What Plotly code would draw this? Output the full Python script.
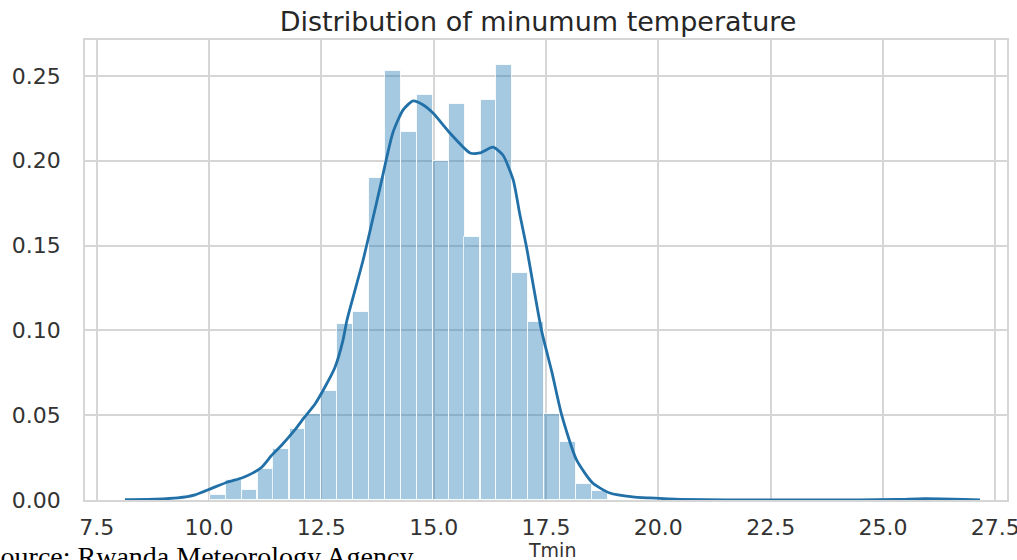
import plotly.graph_objects as go

# ---- data ----
bin_centers = [10.20, 10.55, 10.90, 11.26, 11.61, 11.97, 12.32, 12.68, 13.03, 13.38,
               13.74, 14.09, 14.45, 14.80, 15.16, 15.51, 15.86, 16.22, 16.57, 16.93,
               17.28, 17.64, 17.99, 18.34, 18.70]
bin_heights = [0.003, 0.012, 0.006, 0.018, 0.030, 0.042, 0.051, 0.064, 0.104, 0.111,
               0.190, 0.253, 0.217, 0.239, 0.200, 0.2335, 0.155, 0.236, 0.2565, 0.134,
               0.105, 0.051, 0.034, 0.0094, 0.0055]
bin_width = 0.354

kde_x = [8.13, 8.8, 9.3, 9.69, 10.07, 10.42, 10.73, 10.98, 11.18, 11.40, 11.62, 11.91,
         12.13, 12.36, 12.58, 12.80, 12.98, 13.07, 13.43, 13.81, 14.09, 14.32, 14.54,
         14.76, 14.99, 15.36, 15.81, 16.03, 16.32, 16.54, 16.77, 16.92, 17.06, 17.40,
         17.63, 17.85, 18.18, 18.54, 18.92, 19.43, 19.81, 20.5, 21.5, 23.0, 24.5, 25.3,
         25.9, 26.3, 26.8, 27.16]
kde_y = [0.0002, 0.0005, 0.0012, 0.003, 0.007, 0.0106, 0.013, 0.016, 0.0195, 0.0265,
         0.0324, 0.0413, 0.049, 0.0566, 0.0666, 0.078, 0.094, 0.106, 0.1415, 0.1846,
         0.2164, 0.230, 0.2353, 0.233, 0.228, 0.2164, 0.2046, 0.2046, 0.208, 0.2034,
         0.1887, 0.168, 0.150, 0.100, 0.0755, 0.050, 0.0236, 0.010, 0.0041, 0.0018,
         0.0012, 0.0004, 0.0001, 0.0001, 0.0001, 0.0003, 0.0008, 0.0007, 0.0003, 0.0001]

x_ticks = [7.5, 10.0, 12.5, 15.0, 17.5, 20.0, 22.5, 25.0, 27.5]
y_ticks = [0.00, 0.05, 0.10, 0.15, 0.20, 0.25]

title_text = "Distribution of minumum temperature"
x_label = "Tmin"
source_text = "Source: Rwanda Meteorology Agency"

# ---- figure ----
W, H = 1017, 560
ML, MR, MT, MB = 85, 10, 40, 60
PW = W - ML - MR
PH = H - MT - MB

grid_col = "#d6d6d6"
tick_font = dict(family="DejaVu Sans", size=22, color="#333333")

fig = go.Figure()
fig.add_trace(go.Bar(
    x=bin_centers, y=bin_heights, width=bin_width,
    marker=dict(color="rgba(31,119,180,0.4)",
                line=dict(color="rgba(255,255,255,0.8)", width=1)),
    showlegend=False, hoverinfo="skip"))
fig.add_trace(go.Scatter(
    x=kde_x, y=kde_y, mode="lines",
    line=dict(color="#2270a8", width=2.8, shape="spline", smoothing=0.6),
    showlegend=False, hoverinfo="skip"))

fig.update_layout(
    width=W, height=H,
    margin=dict(l=ML, r=MR, t=MT, b=MB, pad=0, autoexpand=False),
    paper_bgcolor="white", plot_bgcolor="white",
    bargap=0,
    title=dict(text=title_text, x=(538 - ML) / PW, xref="paper", xanchor="center",
               y=1 - 22 / H, yanchor="middle",
               font=dict(family="DejaVu Sans", size=27, color="#262626")),
)
fig.update_xaxes(
    range=[7.24, 27.76], tickvals=x_ticks, ticktext=[f"{v:.1f}" for v in x_ticks],
    showgrid=True, gridcolor=grid_col, gridwidth=1.5,
    showline=True, linecolor=grid_col, linewidth=1.5, mirror=True,
    ticks="outside", ticklen=7, tickcolor="rgba(0,0,0,0)",
    ticklabeloverflow="allow", automargin=False,
    tickfont=tick_font, zeroline=False)
fig.update_yaxes(
    range=[0, 0.2712], tickvals=y_ticks, ticktext=[f"{v:.2f}" for v in y_ticks],
    showgrid=True, gridcolor=grid_col, gridwidth=1.5,
    showline=True, linecolor=grid_col, linewidth=1.5, mirror=True,
    ticks="outside", ticklen=18, tickcolor="rgba(0,0,0,0)",
    ticklabeloverflow="allow", automargin=False,
    tickfont=tick_font, zeroline=False)

fig.add_annotation(text=x_label, xref="paper", yref="paper",
                   x=(552 - ML) / PW, y=(500 - 537) / PH, xanchor="center", yanchor="top",
                   showarrow=False, font=dict(family="DejaVu Sans", size=19, color="#333333"))
fig.add_annotation(text=source_text, xref="paper", yref="paper",
                   x=(-17 - ML) / PW, y=(500 - 539) / PH, xanchor="left", yanchor="top",
                   showarrow=False, font=dict(family="Liberation Serif", size=28, color="black"))

fig.write_html("out.html")
